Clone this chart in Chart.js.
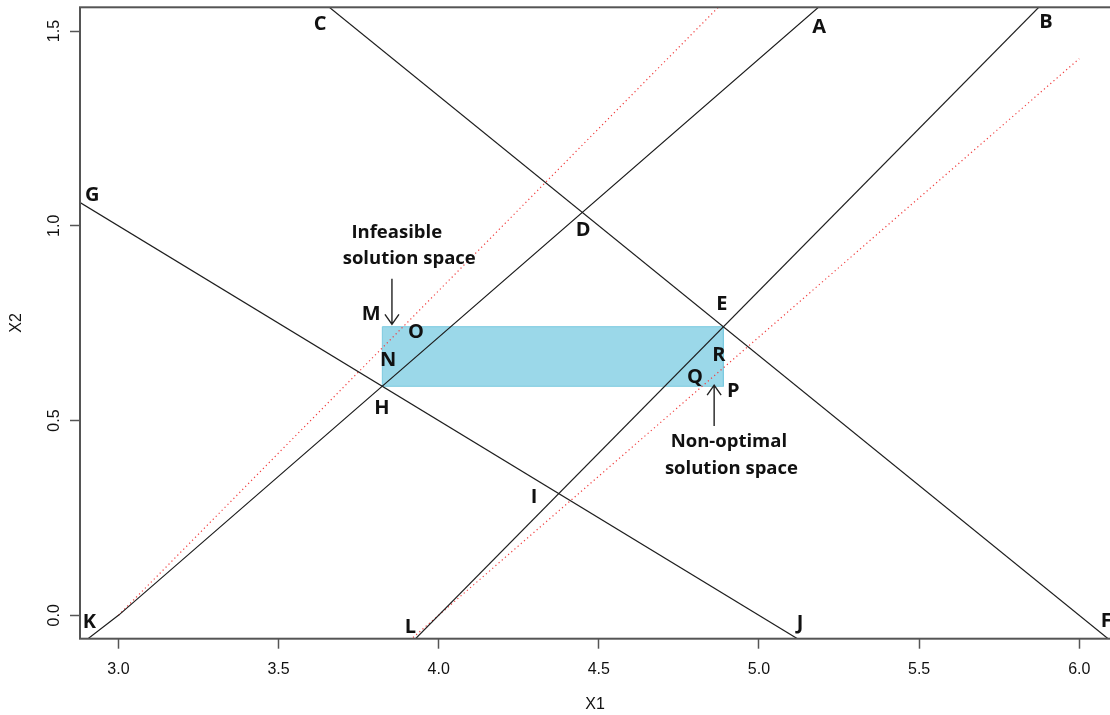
<!DOCTYPE html>
<html><head><meta charset="utf-8">
<script src="https://cdn.jsdelivr.net/npm/chart.js@4.4.0/dist/chart.umd.min.js"></script>
<style>html,body{margin:0;padding:0;background:#fff;overflow:hidden}</style>
</head><body>
<canvas id="c" width="1110" height="715"></canvas>
<script>
// ---- axis ticks ----
const xTicks = [3.0, 3.5, 4.0, 4.5, 5.0, 5.5, 6.0];
const xTickLabels = ['3.0', '3.5', '4.0', '4.5', '5.0', '5.5', '6.0'];
const yTicks = [0.0, 0.5, 1.0, 1.5];
const yTickLabels = ['0.0', '0.5', '1.0', '1.5'];

// ---- constraint lines (black) ----
const lineCF_x = [3.6, 6.15];
const lineCF_y = [1.6, -0.1];
const lineGJ_x = [2.85, 5.2];
const lineGJ_y = [1.075, -0.1];
const lineKA_x = [2.905, 3.0, 5.25];
const lineKA_y = [-0.06, 0.0, 1.607];
const lineLB_x = [3.9, 5.9];
const lineLB_y = [-0.083, 1.583];

// ---- objective lines (red dotted) ----
const objUpper_x = [3.0, 5.0];
const objUpper_y = [0.0, 1.667];
const objLower_x = [3.9, 6.0];
const objLower_y = [-0.071, 1.429];

// ---- shaded solution region ----
const region_x = [3.824, 3.824, 4.889, 4.889, 3.824];
const region_y = [0.588, 0.741, 0.741, 0.588, 0.588];

// ---- point letters (data coordinates) ----
const pointNames = ['C', 'A', 'B', 'G', 'D', 'E', 'M', 'O', 'N', 'R', 'Q', 'P', 'H', 'I', 'J', 'K', 'L', 'F'];
const pointX = [3.630, 5.188, 5.896, 2.918, 4.451, 4.884, 3.789, 3.929, 3.842, 4.875, 4.800, 4.920, 3.823, 4.298, 5.128, 2.909, 3.912, 6.084];
const pointY = [1.504, 1.496, 1.509, 1.064, 0.974, 0.785, 0.758, 0.711, 0.641, 0.653, 0.596, 0.560, 0.517, 0.288, -0.036, -0.033, -0.046, -0.029];

// ---- notes ----
const noteLines = ['Infeasible', 'solution space', 'Non-optimal', 'solution space'];
const noteX = [3.869, 3.908, 4.906, 4.914];
const noteY = [0.969, 0.901, 0.433, 0.363];

// ---- arrows ----
const arrowX = [3.854, 4.860];
const arrowFromY = [0.864, 0.486];
const arrowToY = [0.747, 0.591];

const X_MIN = 2.880, X_MAX = 6.096, Y_MIN = -0.060, Y_MAX = 1.561;

function pts(xs, ys) { return xs.map((x, i) => ({x: x, y: ys[i]})); }

const blackLine = (xs, ys) => ({
  data: pts(xs, ys), showLine: true, borderColor: '#1e1e1e', borderWidth: 1.2,
  pointRadius: 0, fill: false, order: 1
});
const redLine = (xs, ys) => ({
  data: pts(xs, ys), showLine: true, borderColor: '#f03c3c', borderWidth: 1.2,
  borderDash: [1.2, 3], pointRadius: 0, fill: false, order: 2
});

const frame = {
  id: 'frame',
  afterDatasetsDraw(chart) {
    const {ctx, chartArea: a, scales} = chart;
    const sx = scales.x, sy = scales.y;
    ctx.save();
    ctx.fillStyle = '#111';
    ctx.textAlign = 'center';
    ctx.textBaseline = 'alphabetic';
    ctx.font = 'bold 20px "Open Sans"';
    pointNames.forEach((n, i) => {
      ctx.fillText(n, sx.getPixelForValue(pointX[i]), sy.getPixelForValue(pointY[i]));
    });
    ctx.font = 'bold 18.5px "Open Sans"';
    noteLines.forEach((t, i) => {
      ctx.fillText(t, sx.getPixelForValue(noteX[i]), sy.getPixelForValue(noteY[i]));
    });
    ctx.strokeStyle = '#222';
    ctx.lineWidth = 1.4;
    arrowX.forEach((x, i) => {
      const px = sx.getPixelForValue(x);
      const y0 = sy.getPixelForValue(arrowFromY[i]);
      const y1 = sy.getPixelForValue(arrowToY[i]);
      const dir = y1 > y0 ? 1 : -1;
      ctx.beginPath();
      ctx.moveTo(px, y0); ctx.lineTo(px, y1);
      ctx.moveTo(px - 7, y1 - dir * 10); ctx.lineTo(px, y1); ctx.lineTo(px + 7, y1 - dir * 10);
      ctx.stroke();
    });
    ctx.strokeStyle = '#555';
    ctx.lineWidth = 2;
    ctx.strokeRect(a.left, a.top, a.right - a.left + 2, a.bottom - a.top);
    ctx.restore();
  }
};

new Chart(document.getElementById('c'), {
  type: 'scatter',
  data: {
    datasets: [
      blackLine(lineCF_x, lineCF_y),
      blackLine(lineGJ_x, lineGJ_y),
      blackLine(lineKA_x, lineKA_y),
      blackLine(lineLB_x, lineLB_y),
      redLine(objUpper_x, objUpper_y),
      redLine(objLower_x, objLower_y),
      {
        data: pts(region_x, region_y), showLine: true, borderColor: '#7ccbe0', borderWidth: 1,
        backgroundColor: '#9bd8e9', fill: 'shape', pointRadius: 0, order: 10
      }
    ]
  },
  options: {
    responsive: false,
    animation: false,
    devicePixelRatio: 1,
    layout: {padding: {top: 7.3, left: 0, right: 0, bottom: 0}},
    plugins: {legend: {display: false}, tooltip: {enabled: false}, title: {display: false}},
    scales: {
      x: {
        type: 'linear', position: 'bottom', min: X_MIN, max: X_MAX,
        afterBuildTicks: s => { s.ticks = xTicks.map(v => ({value: v})); },
        afterFit: s => { s.height = 76.3; s.paddingLeft = 0; s.paddingRight = 0; },
        ticks: {
          callback: (v) => { const i = xTicks.indexOf(v); return i >= 0 ? xTickLabels[i] : ''; },
          font: {family: '"Liberation Sans", Arial, sans-serif', size: 16},
          color: '#111', padding: 11, maxRotation: 0, minRotation: 0, autoSkip: false
        },
        grid: {drawOnChartArea: false, drawTicks: true, tickLength: 10, tickColor: '#555', tickWidth: 1.5},
        border: {display: false},
        title: {display: true, text: 'X1', color: '#111',
                font: {family: '"Liberation Sans", Arial, sans-serif', size: 16},
                padding: {top: 0, bottom: 0.4}}
      },
      y: {
        type: 'linear', position: 'left', min: Y_MIN, max: Y_MAX,
        afterBuildTicks: s => { s.ticks = yTicks.map(v => ({value: v})); },
        afterFit: s => { s.width = 80; s.paddingTop = 0; s.paddingBottom = 0; },
        ticks: {
          callback: (v) => { const i = yTicks.indexOf(v); return i >= 0 ? yTickLabels[i] : ''; },
          font: {family: '"Liberation Sans", Arial, sans-serif', size: 16},
          color: '#111', padding: 4, minRotation: 90, maxRotation: 90,
          crossAlign: 'center', autoSkip: false
        },
        grid: {drawOnChartArea: false, drawTicks: true, tickLength: 10, tickColor: '#555', tickWidth: 1.5},
        border: {display: false},
        title: {display: true, text: 'X2', color: '#111',
                font: {family: '"Liberation Sans", Arial, sans-serif', size: 16},
                padding: {top: 7, bottom: 0}}
      }
    }
  },
  plugins: [frame]
});
</script>
</body></html>
